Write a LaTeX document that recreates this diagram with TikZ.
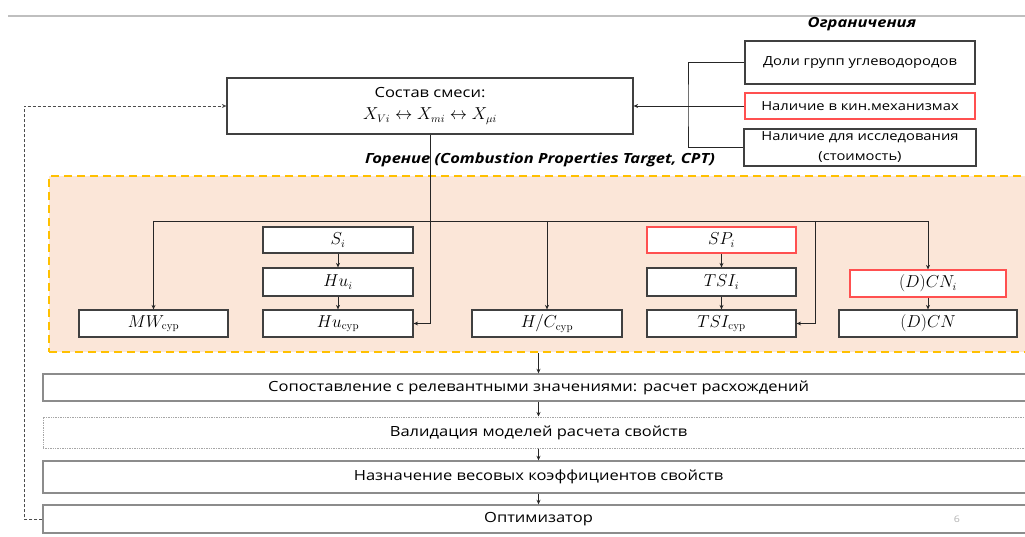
\documentclass[tikz,border=0pt]{standalone}
\usepackage[no-math]{fontspec}
\setmainfont{Open Sans}[FakeStretch=1.18]
\usetikzlibrary{arrows.meta}
\definecolor{peach}{HTML}{FBE6D8}
\definecolor{gold}{HTML}{FFC000}
\definecolor{redb}{HTML}{FF5050}
\begin{document}
\begin{tikzpicture}[x=1pt,y=-1pt,
  box/.style={draw=black!75, line width=1.2pt, fill=white, inner sep=0pt, font=\fontsize{12.5}{15}\selectfont, align=center},
  mbox/.style={box, font=\fontsize{16}{18}\selectfont, minimum width=150pt},
  redbox/.style={draw=redb},
  wide/.style={draw=black!45, line width=1.4pt, fill=white, inner sep=0pt, minimum width=991pt, font=\fontsize{14}{16}\selectfont},
  ln/.style={line width=0.9pt, black!85},
  arr/.style={ln, -{Stealth[length=4.5pt,width=4pt]}},
  lbl/.style={font=\fontsize{14}{16}\selectfont\bfseries\itshape}
]
\useasboundingbox (0,0) rectangle (1025,537);
\draw[black!25, line width=2pt] (8,16) -- (1025,16);

% CPT area
\node[draw=gold, line width=1.6pt, fill=peach, minimum width=983pt, minimum height=176pt, inner sep=0pt, dash pattern=on 8pt off 5pt] (cpt) at (540.5,264) {};
\node[lbl] (cptl) at (540,160) {Горение (Combustion Properties Target, CPT)};

% top
\node[box, minimum width=406pt, minimum height=56pt, font=\fontsize{14}{22}\selectfont] (mix) at (430,106)
  {Состав смеси:\\ \fontsize{16}{18}\selectfont$X_{Vi}\leftrightarrow X_{mi}\leftrightarrow X_{\mu i}$};
\node[lbl] (ogr) at (862,24) {Ограничения};
\node[box, minimum width=230pt, minimum height=43pt] (b1) at (860,62.5) {Доли групп углеводородов};
\node[box, redbox, minimum width=230pt, minimum height=26pt] (b2) at (860,106) {Наличие в кин.механизмах};
\node[box, minimum width=232pt, minimum height=37pt, font=\fontsize{12.5}{20}\selectfont] (b3) at (860,147.5) {Наличие для исследования\\(стоимость)};
\coordinate (bx) at (688,106);
\draw[ln] (b1.west) -| (bx) |- (b3.west);
\draw[arr] (b2.west) -- (mix.east);

% property boxes
\node[mbox, minimum width=149pt, minimum height=27pt] (mw) at (153.5,323.5) {$MW_{\mathrm{cyp}}$};
\node[mbox, minimum height=26pt] (si) at (338,240) {$S_i$};
\node[mbox, minimum height=28pt] (hui) at (338,282) {$Hu_i$};
\node[mbox, minimum height=27pt] (hucyp) at (338,323.5) {$Hu_{\mathrm{cyp}}$};
\node[mbox, minimum height=27pt] (hc) at (547,323.5) {$H/C_{\mathrm{cyp}}$};
\node[mbox, redbox, minimum width=149pt, minimum height=26pt] (sp) at (721.5,240) {$SP_i$};
\node[mbox, minimum width=149pt, minimum height=28pt] (tsii) at (721.5,282) {$TSI_i$};
\node[mbox, minimum width=149pt, minimum height=27pt] (tsicyp) at (721.5,323.5) {$TSI_{\mathrm{cyp}}$};
\node[mbox, redbox, minimum width=156pt, minimum height=27pt] (dcni) at (928,283.5) {$(D)CN_i$};
\node[mbox, minimum width=178pt, minimum height=27pt] (dcn) at (928,323.5) {$(D)CN$};

% connectors in CPT
\coordinate (busL) at (153.5,221);
\coordinate (busR) at (928,221);
\coordinate (bt) at (815,221);
\draw[ln] (busL) -- (busR);
\draw[arr] (mix.south) |- (hucyp.east);
\draw[arr] (busL) -- (mw.north);
\draw[arr] (hc.north |- busL) -- (hc.north);
\draw[arr] (bt) |- (tsicyp.east);
\draw[arr] (busR) -- (dcni.north);
\draw[arr] (si) -- (hui);
\draw[arr] (hui) -- (hucyp);
\draw[arr] (sp) -- (tsii);
\draw[arr] (tsii) -- (tsicyp);
\draw[arr] (dcni) -- (dcn);

% bottom chain
\node[wide, minimum height=27pt] (cmp) at (538.5,387.5) {Сопоставление с релевантными значениями: расчет расхождений};
\node[wide, draw=black!35, densely dotted, line width=1pt, minimum height=31pt] (val) at (538.5,432.5) {Валидация моделей расчета свойств};
\node[wide, minimum height=32pt] (nas) at (538.5,477) {Назначение весовых коэффициентов свойств};
\node[wide, minimum height=28pt] (opt) at (538.5,519) {Оптимизатор};
\node[font=\fontsize{9}{10}\selectfont, text=black!30] (pg) at (957,519) {6};
\draw[arr] (cpt.south -| cmp.north) -- (cmp.north);
\draw[arr] (cmp) -- (val);
\draw[arr] (val) -- (nas);
\draw[arr] (nas) -- (opt);

% feedback
\coordinate (fb) at (24,106);
\draw[arr, black!70, dash pattern=on 3pt off 2pt] (opt.west) -| (fb) -- (mix.west);
\end{tikzpicture}
\end{document}
